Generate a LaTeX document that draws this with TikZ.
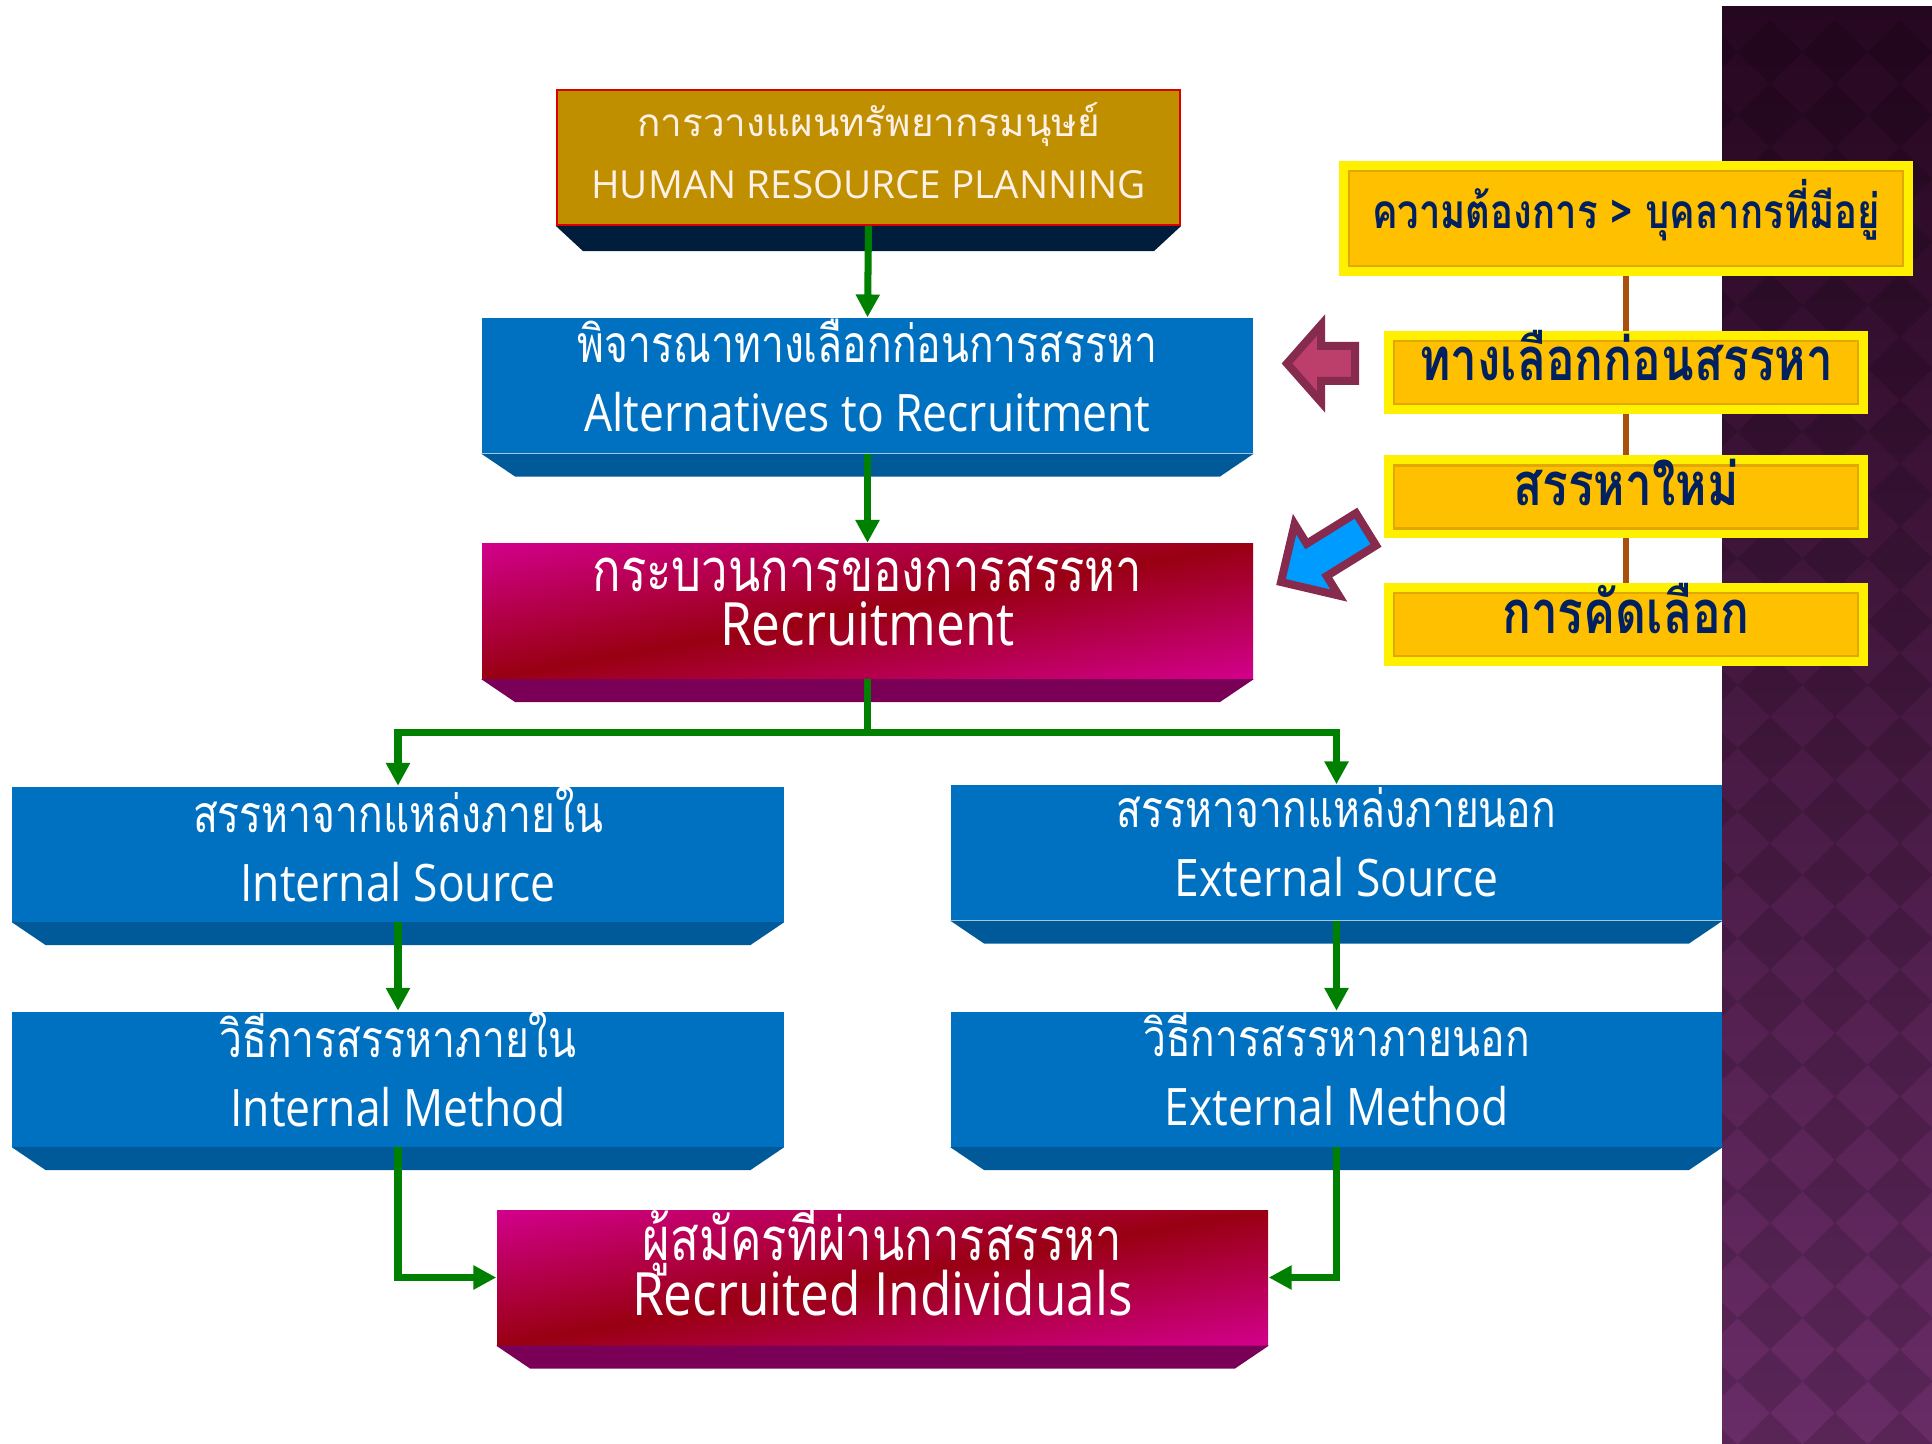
\documentclass[tikz,border=0pt]{standalone}
\usepackage{fontspec}
\setmainfont{Open Sans}[FakeStretch=0.86]
\newfontfamily\plainsans{Open Sans}
\newfontfamily\thaifont{Loma}[Script=Thai,FakeStretch=0.79]
\newfontfamily\thaiplain{Loma}[Script=Thai]
\newfontfamily\thaitag{Loma}[Script=Thai,FakeStretch=0.8]
\usetikzlibrary{arrows.meta,positioning}

\definecolor{hrgold}{HTML}{BF8F00}
\definecolor{hrnavy}{HTML}{001E3C}
\definecolor{hrcream}{HTML}{FFF0E8}
\definecolor{boxblue}{HTML}{0070C0}
\definecolor{bevelblue}{HTML}{005A9A}
\definecolor{mgpink}{HTML}{D4008F}
\definecolor{mgred}{HTML}{990012}
\definecolor{mgbevel}{HTML}{7A0057}
\definecolor{linkgreen}{HTML}{008000}
\definecolor{tipyellow}{HTML}{FFC000}
\definecolor{rimyellow}{HTML}{FFF000}
\definecolor{rimline}{HTML}{E0A800}
\definecolor{textnavy}{HTML}{002060}
\definecolor{stembrown}{HTML}{A8500C}
\definecolor{arrowrim}{HTML}{862A4E}
\definecolor{arrowpink}{HTML}{BC3E6A}
\definecolor{arrowblue}{HTML}{009BFF}
\definecolor{paneltop}{HTML}{260720}
\definecolor{panelbot}{HTML}{682C66}

\pgfdeclarehorizontalshading{recshade}{100bp}{color(0bp)=(mgpink); color(20bp)=(mgpink); color(50bp)=(mgred); color(80bp)=(mgpink); color(100bp)=(mgpink)}

\begin{document}
\begin{tikzpicture}[
    hrbox/.style={rectangle, fill=hrgold, draw=red!85!black, line width=0.6pt,
      minimum width=6.23cm, minimum height=1.35cm},
    stepbox/.style={rectangle, fill=boxblue, minimum width=7.71cm, minimum height=1.35cm},
    keybox/.style={rectangle, shading=recshade, shading angle=-80, minimum width=7.71cm,
      minimum height=1.35cm},
    hrtext/.style={text=hrcream, align=center, inner sep=0pt,
      font=\plainsans\fontsize{11}{17.5}\selectfont},
    steptext/.style={text=white, align=center, inner sep=0pt,
      font=\fontsize{14.7}{19.6}\selectfont},
    keytext/.style={text=white, align=center, inner sep=0pt,
      font={\fontsize{17}{15.5}\selectfont\lineskiplimit-20pt\relax}},
    notebox/.style={rectangle, fill=tipyellow, draw=rimline, line width=0.6pt, outer sep=0.1cm,
      inner sep=0pt, text height=0.4cm, text depth=0.23cm,
      preaction={draw=rimyellow, line width=0.2cm}, text=textnavy,
      font=\thaitag\bfseries\fontsize{17}{20}\selectfont},
    link/.style={draw=linkgreen, line width=2pt, -{Triangle[width=6.5pt,length=6.5pt]}},
    stem/.style={draw=stembrown, line width=1.5pt},
    pointer/.style={draw=arrowrim, line width=0.08cm, line join=miter}
  ]
  \useasboundingbox (0,0) rectangle (19.32,-14.44);

  % dark side panel
  \fill[top color=paneltop, bottom color=panelbot] (17.22,-0.07) rectangle (19.32,-14.44);
  \begin{scope}
    \clip (17.22,-0.07) rectangle (19.32,-14.44);
    \foreach \i in {0,...,4}{
      \foreach \j in {0,...,22}{
        \fill[black, opacity=0.14] (17.05+0.65*\i,-0.52-0.633*\j) +(0.325,0) -- +(0,0.317) -- +(-0.325,0) -- +(0,-0.317) -- cycle;
      }
    }
  \end{scope}

  % flow boxes
  \node[hrbox] (hrp) at (8.685,-1.575) {};
  \node[stepbox] (alt) at (8.675,-3.855) {};
  \node[keybox] (rec) at (8.675,-6.11) {};
  \node[stepbox] (insrc) at (3.98,-8.54) {};
  \node[stepbox] (exsrc) at (13.365,-8.525) {};
  \node[stepbox] (inmth) at (3.98,-10.79) {};
  \node[stepbox] (exmth) at (13.365,-10.79) {};
  \node[keybox] (pool) at (8.825,-12.775) {};

  % bevelled undersides
  \fill[hrnavy] (hrp.south west) -- (hrp.south east) -- ([xshift=-0.27cm,yshift=-0.25cm]hrp.south east) -- ([xshift=0.27cm,yshift=-0.25cm]hrp.south west) -- cycle;
  \foreach \n/\c in {alt/bevelblue, insrc/bevelblue, exsrc/bevelblue, inmth/bevelblue, exmth/bevelblue, rec/mgbevel, pool/mgbevel}{
    \fill[\c] (\n.south west) -- (\n.south east) -- ([xshift=-0.34cm,yshift=-0.23cm]\n.south east) -- ([xshift=0.34cm,yshift=-0.23cm]\n.south west) -- cycle;
  }

  % box captions
  \node[hrtext] (hrp-t) at ([yshift=0.07cm]hrp.center) {{\thaiplain การวางแผนทรัพยากรมนุษย์}\\HUMAN RESOURCE PLANNING};
  \node[steptext] (alt-t) at ([yshift=0.1cm]alt.center) {{\thaifont พิจารณาทางเลือกก่อนการสรรหา}\\Alternatives to Recruitment};
  \node[keytext] (rec-t) at ([yshift=0.1cm]rec.center) {{\thaifont กระบวนการของการสรรหา}\\Recruitment};
  \node[steptext] (insrc-t) at ([yshift=0.1cm]insrc.center) {{\thaifont สรรหาจากแหล่งภายใน}\\Internal Source};
  \node[steptext] (exsrc-t) at ([yshift=0.1cm]exsrc.center) {{\thaifont สรรหาจากแหล่งภายนอก}\\External Source};
  \node[steptext] (inmth-t) at ([yshift=0.1cm]inmth.center) {{\thaifont วิธีการสรรหาภายใน}\\Internal Method};
  \node[steptext] (exmth-t) at ([yshift=0.1cm]exmth.center) {{\thaifont วิธีการสรรหาภายนอก}\\External Method};
  \node[keytext] (pool-t) at ([yshift=0.2cm]pool.center) {{\thaifont ผู้สมัครที่ผ่านการสรรหา}\\Recruited Individuals};

  % connectors
  \coordinate (fork) at ([yshift=-0.53cm]rec.south);
  \draw[link] (hrp.south) -- (alt.north);
  \draw[link] (alt.south) -- (rec.north);
  \draw[link, -] (rec.south) -- (fork);
  \draw[link] (fork) -| (insrc.north);
  \draw[link] (fork) -| (exsrc.north);
  \draw[link] (insrc.south) -- (inmth.north);
  \draw[link] (exsrc.south) -- (exmth.north);
  \draw[link] (inmth.south) |- (pool.west);
  \draw[link] (exmth.south) |- (pool.east);

  % yellow notes
  \node[notebox, minimum width=5.54cm, minimum height=0.95cm, text height=0.5cm, text depth=0.3cm,
    font=\thaitag\bfseries\fontsize{13.6}{16}\selectfont] (need) at (16.26,-2.185) {ความต้องการ > บุคลากรที่มีอยู่};
  \node[notebox, minimum width=4.64cm, minimum height=0.63cm] (alttag) at (16.26,-3.725) {ทางเลือกก่อนสรรหา};
  \node[notebox, minimum width=4.64cm, minimum height=0.62cm] (newtag) at (16.26,-4.97) {สรรหาใหม่};
  \node[notebox, minimum width=4.64cm, minimum height=0.61cm] (seltag) at (16.26,-6.245) {การคัดเลือก};
  \draw[stem] (need.south) -- (alttag.north);
  \draw[stem] (alttag.south) -- (newtag.north);
  \draw[stem] (newtag.south) -- (seltag.north);

  % pointers
  \begin{scope}[shift={(12.87,-3.635)}]
    \draw[pointer, fill=arrowpink] (0,0) -- (0.34,0.385) -- (0.34,0.175) -- (0.68,0.175) -- (0.68,-0.175) -- (0.34,-0.175) -- (0.34,-0.385) -- cycle;
  \end{scope}
  \begin{scope}[shift={(12.81,-5.82)}, rotate=31.8]
    \draw[pointer, fill=arrowblue] (0,0) -- (0.42,0.42) -- (0.42,0.19) -- (1.0,0.19) -- (1.0,-0.19) -- (0.42,-0.19) -- (0.42,-0.42) -- cycle;
  \end{scope}
\end{tikzpicture}
\end{document}
